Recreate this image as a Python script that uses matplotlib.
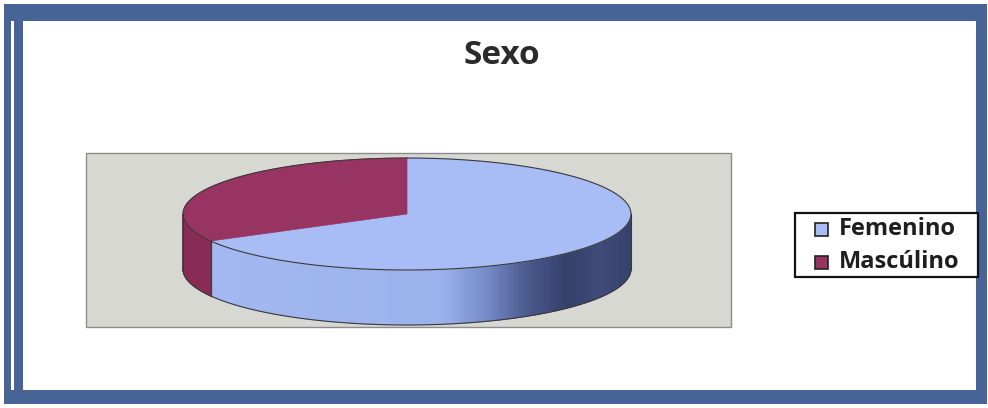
import numpy as np
import matplotlib
matplotlib.use("Agg")
import matplotlib.pyplot as plt
from matplotlib.patches import Rectangle, Polygon
from matplotlib.collections import PolyCollection
from matplotlib.colors import LinearSegmentedColormap, to_rgba

# data
categories = ["Femenino", "Mascúlino"]
values = [67, 33]
top_colors = ["#A8BDF5", "#983462"]
side_colors = [None, "#882C56"]   # None -> gradient side

plt.rcParams["font.family"] = ["Open Sans", "DejaVu Sans"]

W, H = 988, 408
fig = plt.figure(figsize=(W / 100, H / 100), dpi=100)
ax = fig.add_axes([0, 0, 1, 1])
ax.set_xlim(0, W)
ax.set_ylim(H, 0)
ax.axis("off")

frame_col = "#486496"
# outer frame (double line on the left)
for x, y, w, h in [(4, 4, 983, 17), (4, 4, 7, 400), (14, 16, 9, 384),
                   (4, 390, 983, 14), (976, 4, 11, 400)]:
    ax.add_patch(Rectangle((x, y), w, h, facecolor=frame_col, edgecolor="none"))

ax.text(502, 56, "Sexo", ha="center", va="center", fontsize=24,
        fontweight="bold", color="#2b2b2b")

# plot area
ax.add_patch(Rectangle((86, 153), 645, 174, facecolor="#D7D8D2",
                       edgecolor="#8C8C8C", lw=1))

# 3d pie geometry
cx, cy, a, b, depth = 407, 214, 224, 56, 55

grad = LinearSegmentedColormap.from_list("side", [
    (0.0, "#A4B9F1"), (0.58, "#9CB2EC"), (0.68, "#7489C6"),
    (0.77, "#4A5A8E"), (0.86, "#343F69"), (0.93, "#3D4A78"),
    (1.0, "#36426E")])


def pt(t):
    t = np.radians(t)
    return cx + a * np.cos(t), cy - b * np.sin(t)


fracs = np.array(values, dtype=float) / sum(values)
start = 90.0
slices = []
for f in fracs:
    t1 = start - 360 * f
    slices.append((t1, start))
    start = t1

edge = "#3a3a3a"
# side walls
for i, (t1, t2) in enumerate(slices):
    for k in (-1, 0, 1):
        lo, hi = max(t1, -180 + 360 * k), min(t2, 360 * k)
        if lo >= hi:
            continue
        ts = np.linspace(lo, hi, 160)
        polys, cols = [], []
        for s0, s1 in zip(ts[:-1], ts[1:]):
            x0, y0 = pt(s0)
            x1, y1 = pt(s1)
            polys.append([(x0, y0), (x1, y1), (x1, y1 + depth), (x0, y0 + depth)])
            if side_colors[i] is None:
                cols.append(grad(((x0 + x1) / 2 - (cx - a)) / (2 * a)))
            else:
                cols.append(to_rgba(side_colors[i]))
        ax.add_collection(PolyCollection(polys, facecolors=cols, edgecolors=cols, lw=0.6))
        # outline of the side
        xs, ys = pt(ts)
        ax.plot(xs, ys + depth, color=edge, lw=0.8)
        for tt in (lo, hi):
            xx, yy = pt(tt)
            ax.plot([xx, xx], [yy, yy + depth], color=edge, lw=0.8)

# top faces
for i, (t1, t2) in enumerate(slices):
    ts = np.linspace(t2, t1, 200)
    xs, ys = pt(ts)
    verts = [(cx, cy)] + list(zip(xs, ys))
    ax.add_patch(Polygon(verts, closed=True, facecolor=top_colors[i],
                         edgecolor=top_colors[i], lw=0.5))
    ax.plot(xs, ys, color=edge, lw=0.8)

# legend (drawn by hand to match the box)
ax.add_patch(Rectangle((795, 213), 183, 64, facecolor="white",
                       edgecolor="#111111", lw=1.6, zorder=5))
for i, (lab, col) in enumerate(zip(categories, top_colors)):
    yc = 229 + i * 33
    ax.add_patch(Rectangle((815, yc - 6.5), 13, 13, facecolor=col,
                           edgecolor="#222222", lw=1.2, zorder=6))
    ax.text(839, yc, lab, ha="left", va="center", fontsize=17,
            fontweight="bold", color="#1e1e1e", zorder=6)

fig.savefig("out.png", dpi=100)
